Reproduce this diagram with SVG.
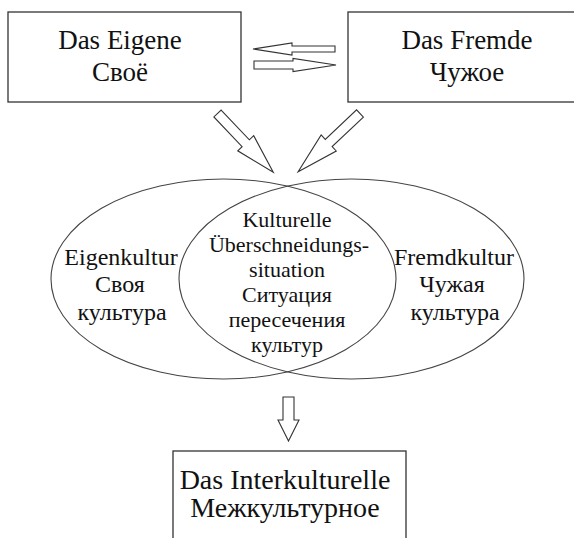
<svg xmlns="http://www.w3.org/2000/svg" width="574" height="538" viewBox="0 0 574 538">
<style>
.box{fill:#fff;stroke:#333;stroke-width:1.3}
.ell{fill:none;stroke:#444;stroke-width:1.1}
.arr{fill:#fff;stroke:#333;stroke-width:1.1;stroke-linejoin:miter}
.tx{font-family:'Liberation Serif','Times New Roman',Times,'DejaVu Serif',serif;fill:#111;text-anchor:middle}
.t27{font-size:27px}
.t28{font-size:28px}
.t24{font-size:24px}
.t22{font-size:22px}
</style>
<rect width="574" height="538" fill="#fff"/>
<g id="eigene">
<rect class="box" x="8" y="12" width="233" height="90"/>
<text class="tx t27" x="120" y="49">Das Eigene</text>
<text class="tx t27" x="120" y="81">Своё</text>
</g>
<g id="fremde">
<rect class="box" x="348" y="12" width="240" height="90"/>
<text class="tx t27" x="467" y="49">Das Fremde</text>
<text class="tx t27" x="467" y="81">Чужое</text>
</g>
<g id="eigenkultur">
<ellipse class="ell" cx="223.5" cy="279" rx="172.5" ry="100"/>
<text class="tx t24" x="121" y="265">Eigenkultur</text>
<text class="tx t24" x="120" y="292">Своя</text>
<text class="tx t24" x="122" y="320">культура</text>
</g>
<g id="fremdkultur">
<ellipse class="ell" cx="351.5" cy="279" rx="172.5" ry="100"/>
<text class="tx t24" x="454" y="265">Fremdkultur</text>
<text class="tx t24" x="452" y="292">Чужая</text>
<text class="tx t24" x="455" y="320">культура</text>
</g>
<g id="ueberschneidung">
<text class="tx t22" x="287" y="227">Kulturelle</text>
<text class="tx t22" x="289" y="252">Überschneidungs-</text>
<text class="tx t22" x="287" y="277">situation</text>
<text class="tx t22" x="287" y="302">Ситуация</text>
<text class="tx t22" x="287" y="327">пересечения</text>
<text class="tx t22" x="287" y="352">культур</text>
</g>
<g id="interkulturelle">
<rect class="box" x="173" y="451" width="233" height="100"/>
<text class="tx t28" x="285" y="489">Das Interkulturelle</text>
<text class="tx t28" x="285" y="517">Межкультурное</text>
</g>
<g id="connectors">
<polygon class="arr" points="335,46 292,46 292,43 253,49 292,55 292,52 335,52"/>
<polygon class="arr" points="254,61 293,61 293,58.5 336,65 293,71.5 293,69 254,69"/>
<polygon class="arr" transform="translate(217.5,113.5) rotate(46.5)" points="0,-5 41,-5 41,-11 81,0 41,11 41,5 0,5"/>
<polygon class="arr" transform="translate(360,113.5) rotate(136.7)" points="0,-5 43,-5 43,-11 85,0 43,11 43,5 0,5"/>
<polygon class="arr" points="283,397 294,397 294,420 299,420 288.5,441 278,420 283,420"/>
</g>
</svg>
